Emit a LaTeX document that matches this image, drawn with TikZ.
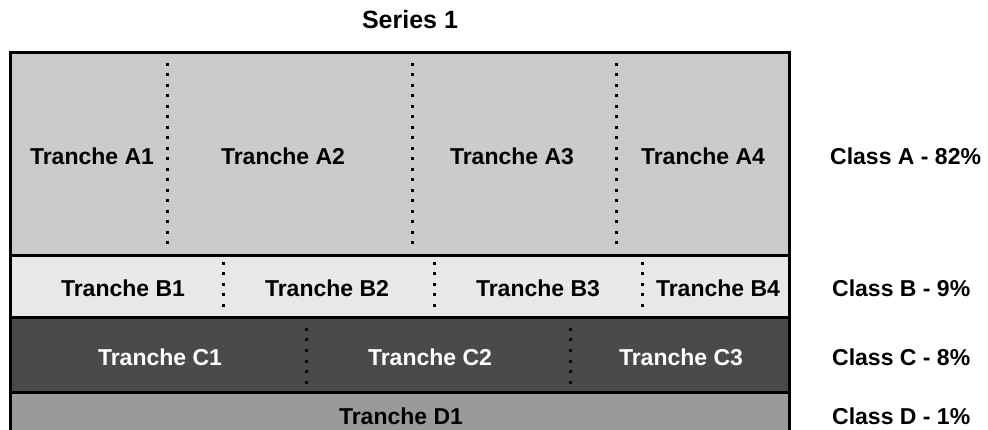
\documentclass[tikz,border=0pt]{standalone}
\usepackage{fontspec}
\setmainfont{Liberation Sans}
\usetikzlibrary{calc}

\definecolor{rowA}{HTML}{CBCBCB}
\definecolor{rowB}{HTML}{E8E8E8}
\definecolor{rowC}{HTML}{4A4A4A}
\definecolor{rowD}{HTML}{9A9A9A}

\tikzset{
  lbl/.style={font=\fontsize{23}{27}\selectfont\bfseries, inner sep=0pt},
  divider/.style={black, line width=3pt, dash pattern=on 3pt off 7.5pt},
  edge/.style={black, line width=3pt},
}

\begin{document}
\begin{tikzpicture}[x=1pt, y=-1pt]
\clip (0,0) rectangle (988,430);
\fill[white] (0,0) rectangle (988,430);
% the four classes
\fill[rowA] (10,53) rectangle (789,256);
\fill[rowB] (10,256) rectangle (789,318);
\fill[rowC] (10,318) rectangle (789,392);
\fill[rowD] (10,392) rectangle (789,450);
\draw[edge] (10,53) rectangle (789,450);
\foreach \y in {256, 318, 392} {
 \draw[edge] (10,\y) -- (789,\y);
}
% dotted tranche dividers
\foreach \x in {167, 412, 616} {
 \draw[divider] (\x,63) -- (\x,252);
}
\foreach \x in {223, 434, 642} {
 \draw[divider] (\x,262) -- (\x,314);
}
\foreach \x in {306, 570} {
 \draw[divider] (\x,328) -- (\x,388);
}
% labels
\node[lbl, font=\fontsize{25}{29}\selectfont\bfseries] (series) at (410,20) {Series 1};
\foreach \x/\n in {92/1, 283/2, 512/3, 703/4} {
 \node[lbl] (a\n) at (\x,156) {Tranche A\n};
}
\foreach \x/\n in {123/1, 327/2, 538/3, 718/4} {
 \node[lbl] (b\n) at (\x,288) {Tranche B\n};
}
\foreach \x/\n in {160/1, 430/2, 681/3} {
 \node[lbl, white] (c\n) at (\x,357) {Tranche C\n};
}
\node[lbl] (d1) at (401,416) {Tranche D1};
\node[lbl, anchor=west] (classA) at (830,156) {Class A - 82\%};
\node[lbl, anchor=west] (classB) at (832,288) {Class B - 9\%};
\node[lbl, anchor=west] (classC) at (832,357) {Class C - 8\%};
\node[lbl, anchor=west] (classD) at (832,416) {Class D - 1\%};
\end{tikzpicture}
\end{document}
